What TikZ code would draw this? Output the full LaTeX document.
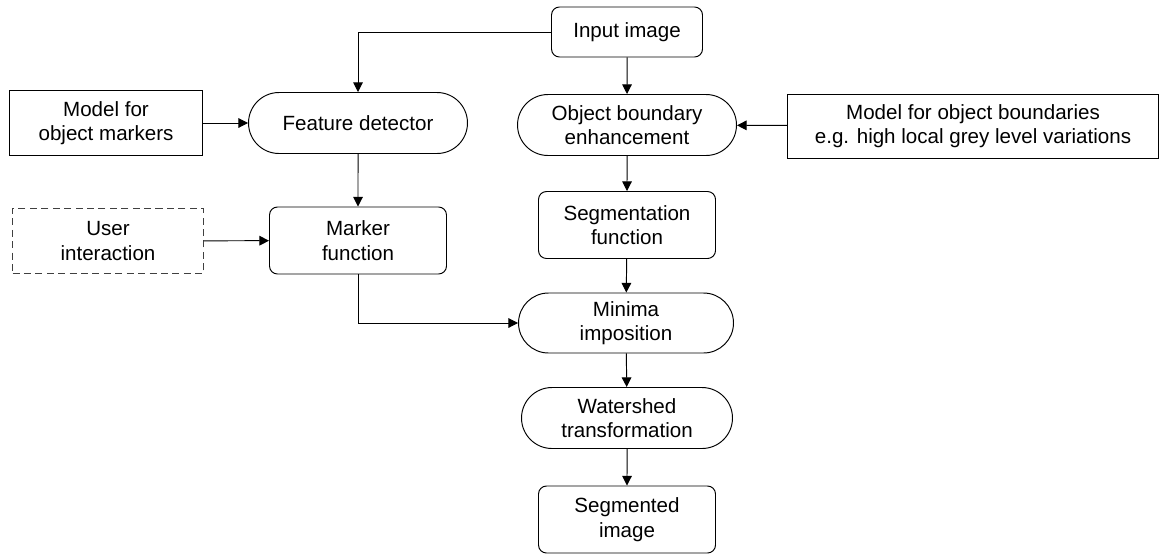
\documentclass[tikz,border=0pt]{standalone}
\usepackage{fontspec}
\setmainfont{Liberation Sans}
\usepackage{tikz}
\usetikzlibrary{shapes.misc,positioning,calc,arrows.meta}

\tikzset{
  box/.style={draw, line width=0.55pt, align=center, inner sep=2pt,
    font=\fontsize{11.7}{14}\selectfont},
  rbox/.style={box, rounded corners=0.16cm},
  pill/.style={box, rounded rectangle},
  userbox/.style={box, draw=black!75, dash pattern=on 4pt off 2.5pt},
  arr/.style={line width=0.55pt, -{Triangle[length=5.5pt,width=5.5pt]}}
}

\begin{document}
\begin{tikzpicture}
  \useasboundingbox (0,0) rectangle (23.22,-11.08);

  % Main column
  \node[rbox, minimum width=3.02cm, minimum height=1.0cm] (input) at (12.54,-0.64) {Input image};
  \node[pill, minimum width=4.52cm, minimum height=1.22cm] (obe) at (12.54,-2.50) {Object boundary\\enhancement};
  \node[rbox, minimum width=3.54cm, minimum height=1.34cm] (segfn) at (12.54,-4.50) {Segmentation\\function};
  \node[pill, minimum width=4.44cm, minimum height=1.20cm] (minima) at (12.52,-6.46) {Minima\\imposition};
  \node[pill, minimum width=4.36cm, minimum height=1.22cm] (water) at (12.54,-8.36) {Watershed\\transformation};
  \node[rbox, minimum width=3.54cm, minimum height=1.34cm] (result) at (12.54,-10.39) {Segmented\\image};

  % Marker column
  \node[pill, minimum width=4.52cm, minimum height=1.22cm] (feat) at (7.16,-2.46) {Feature detector};
  \node[rbox, minimum width=3.54cm, minimum height=1.34cm] (marker) at (7.16,-4.81) {Marker\\function};

  % Models and user input
  \node[box, minimum width=3.86cm, minimum height=1.30cm] (markmodel) at (2.12,-2.46) {Model for\\object markers};
  \node[userbox, minimum width=3.82cm, minimum height=1.30cm] (user) at (2.16,-4.82) {User\\interaction};
  \node[box, minimum width=7.42cm, minimum height=1.28cm] (bndmodel) at (19.46,-2.52) {Model for object boundaries\\e.g. high local grey level variations};

  % Connections
  \draw[arr] (input.west) -| (feat.north);
  \draw[arr] (input) -- (obe);
  \draw[arr] (obe) -- (segfn);
  \draw[arr] (segfn) -- (minima);
  \draw[arr] (minima) -- (water);
  \draw[arr] (water) -- (result);
  \draw[arr] (markmodel) -- (feat);
  \draw[arr] (feat) -- (marker);
  \draw[arr] (user) -- (marker);
  \draw[arr] (bndmodel) -- (obe);
  \draw[arr] (marker.south) |- (minima.west);
\end{tikzpicture}
\end{document}
